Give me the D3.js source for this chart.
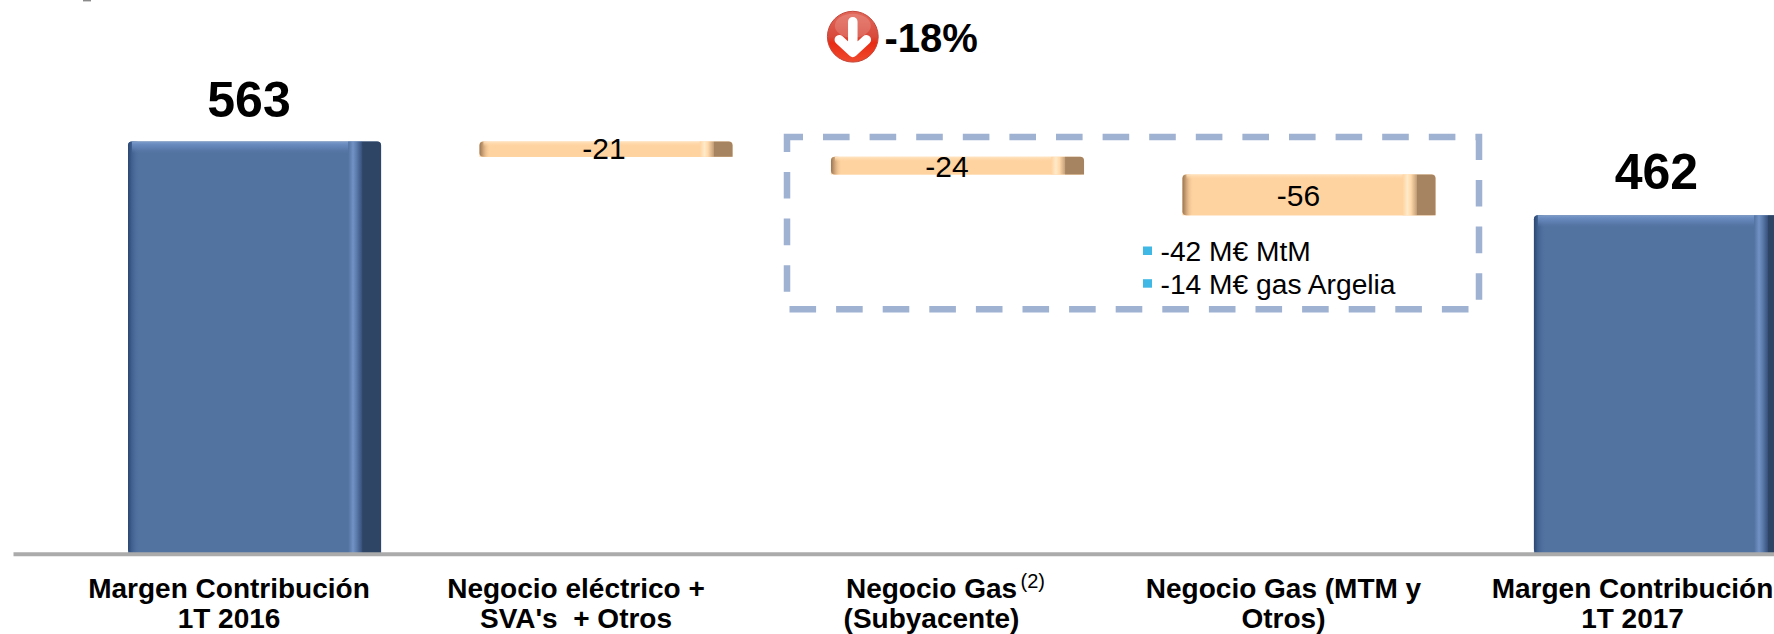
<!DOCTYPE html>
<html><head><meta charset="utf-8">
<script src="https://cdn.jsdelivr.net/npm/d3@7/dist/d3.min.js"></script>
<style>html,body{margin:0;padding:0;background:#fff}svg{display:block}text{font-family:"Liberation Sans",Arial,sans-serif}</style>
</head><body><svg id="c" width="1774" height="634"></svg>
<script>
const categories=["Margen Contribución 1T 2016","Negocio eléctrico + SVA's + Otros","Negocio Gas (Subyacente)","Negocio Gas (MTM y Otros)","Margen Contribución 1T 2017"];
const deltas=[563,-21,-24,-56,462];
const isTotal=[true,false,false,false,true];
const valueLabels=["563","-21","-24","-56","462"];
const labelLines=[["Margen Contribución","1T 2016"],["Negocio eléctrico +","SVA's  + Otros"],["Negocio Gas","(Subyacente)"],["Negocio Gas (MTM y","Otros)"],["Margen Contribución","1T 2017"]];
const notes=["-42 M€ MtM","-14 M€ gas Argelia"];
const changeLabel="-18%";
const W=1774,H=634;
const svg=d3.select("#c").attr("viewBox",[0,0,W,H]);
const x=d3.scaleBand().domain(categories).range([128,1787]).paddingInner(.28).paddingOuter(0);
const y=d3.scaleLinear().domain([0,563]).range([553,141.5]);
let run=0;
const rows=categories.map((c,i)=>{let a,b;if(isTotal[i]){a=0;b=deltas[i];run=b;}else{a=run;b=run+deltas[i];run=b;}return{c,i,hi:Math.max(a,b),lo:Math.min(a,b),total:isTotal[i]};});
const defs=svg.append("defs");
function grad(id,dir,stops){const g=defs.append("linearGradient").attr("id",id).attr("x1",0).attr("y1",0).attr("x2",dir=="h"?1:0).attr("y2",dir=="h"?0:1);stops.forEach(s=>g.append("stop").attr("offset",s[0]).attr("stop-color",s[1]).attr("stop-opacity",s[2]===undefined?1:s[2]));}
grad("blueL","h",[[0,"#2c466f"],[.3,"#3f5f8f"],[.7,"#4d6d9c",.6],[1,"#5272a0",0]]);
grad("blueT","v",[[0,"#7f9dcb"],[.2,"#6c8dc0"],[.55,"#6385b8",.7],[1,"#5a7aaa",0]]);
grad("blueH","h",[[0,"#5272a0"],[.35,"#7292c6"],[.6,"#5c7cac"],[1,"#36507a"]]);
grad("oranL","h",[[0,"#9a7654"],[.35,"#d0a578"],[1,"#ffd3a0",0]]);
grad("oranT","v",[[0,"#ffe4c2"],[1,"#ffd3a0",0]]);
grad("oranH","h",[[0,"#ffd3a0"],[.35,"#ffeac9"],[.6,"#ffd9aa"],[1,"#c6a079"]]);
const rg=defs.append("linearGradient").attr("id","ball").attr("x1",0).attr("y1",0).attr("x2",0).attr("y2",1);
[[0,"#e2675a"],[.5,"#d84a3c"],[.62,"#e82c14"],[1,"#f04a2e"]].forEach(s=>rg.append("stop").attr("offset",s[0]).attr("stop-color",s[1]));
// bars
const g=svg.append("g").selectAll("g").data(rows).join("g");
g.each(function(d){
 const s=d3.select(this),X=x(d.c),w=x.bandwidth(),Y=y(d.hi),h=y(d.lo)-y(d.hi);
 const t=d.total,main=t?"#5272a0":"#ffd3a0",dark=t?"#2f4566":"#a68462";
 const pre=t?"blue":"oran";
 const sx=w*.925,hx=w*.87,r=4;
 s.append("rect").attr("x",X).attr("y",Y).attr("width",w).attr("height",h).attr("rx",r).attr("fill",main);
 s.append("rect").attr("x",X).attr("y",Y+h-r).attr("width",w).attr("height",r).attr("fill",main);
 s.append("rect").attr("x",X).attr("y",Y).attr("width",t?12:11).attr("height",h).attr("rx",r).attr("fill",`url(#${pre}L)`);
 s.append("rect").attr("x",X+r).attr("y",Y).attr("width",sx-r).attr("height",Math.min(t?12:5,h)).attr("fill",`url(#${pre}T)`);
 s.append("rect").attr("x",X+hx).attr("y",Y).attr("width",sx-hx).attr("height",h).attr("fill",`url(#${pre}H)`);
 s.append("path").attr("d",`M${X+sx},${Y}H${X+w-r}Q${X+w},${Y} ${X+w},${Y+r}V${Y+h}H${X+sx}Z`).attr("fill",dark);
});
// axis
const axis=d3.axisBottom(d3.scaleLinear().domain([0,1]).range([13,W])).tickSize(0).tickValues([]);
svg.append("g").attr("transform","translate(0,553.7)").call(axis).select(".domain").attr("stroke","#ababab").attr("stroke-width",4);
// value labels
const dx=[-5.5,-2,-10.5,-10.5,-4],base=[117,159,176.8,206.3,189];
svg.append("g").selectAll("text").data(rows).join("text")
 .attr("x",(d,i)=>x(d.c)+x.bandwidth()/2+dx[i]).attr("y",(d,i)=>base[i]).attr("text-anchor","middle")
 .attr("font-size",d=>d.total?50:30).attr("font-weight",d=>d.total?"bold":"normal").text((d,i)=>valueLabels[i]);
// dashed box
svg.append("rect").attr("x",787).attr("y",137).attr("width",692).attr("height",172.3).attr("fill","none")
 .attr("stroke","#a0b2d1").attr("stroke-width",6.5).attr("stroke-dasharray","26.6 20").attr("stroke-dashoffset",10.6);
// notes
const ng=svg.append("g").selectAll("g").data(notes).join("g");
ng.append("rect").attr("x",1143).attr("y",(d,i)=>246.5+i*32.7).attr("width",9).attr("height",8.5).attr("fill","#40b8e6");
ng.append("text").attr("x",1160.5).attr("y",(d,i)=>260.7+i*33).attr("font-size",28.2).text(d=>d);
// change badge
const bd=svg.append("g").attr("transform","translate(852.8,36.7)");
bd.append("circle").attr("r",25.4).attr("fill","url(#ball)").attr("stroke","#c4483c").attr("stroke-width",1);
bd.append("ellipse").attr("cy",-11).attr("rx",18).attr("ry",12).attr("fill","#fff").attr("opacity",.16);
bd.append("path").attr("d","M0,-15V15M-13.5,3L0,15.5L13.5,3").attr("fill","none").attr("stroke","#fff").attr("stroke-width",9.5).attr("stroke-linecap","round").attr("stroke-linejoin","round");
svg.append("text").attr("x",884.5).attr("y",51.7).attr("font-size",40).attr("font-weight","bold").text(changeLabel);
// small clipped mark at the very top of the source slide
svg.append("rect").attr("x",83).attr("y",0).attr("width",8).attr("height",1.4).attr("fill","#8a8a8a");
// category labels
const lc=[229,576,931.5,1283.5,1632.5];
const cg=svg.append("g").selectAll("g").data(labelLines).join("g");
cg.selectAll("text").data((d,i)=>d.map((t,j)=>({t,j,i}))).join("text")
 .attr("x",d=>lc[d.i]).attr("y",d=>598.3+d.j*29.7).attr("text-anchor","middle").attr("font-size",28).attr("font-weight","bold").style("white-space","pre").attr("xml:space","preserve").text(d=>d.t);
svg.append("text").attr("x",1020.5).attr("y",588).attr("font-size",20).text("(2)");
</script></body></html>
